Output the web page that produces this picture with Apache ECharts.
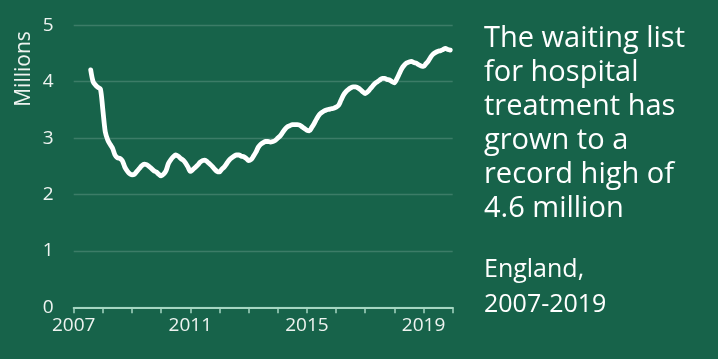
<!DOCTYPE html>
<html>
<head>
<meta charset="utf-8">
<script src="https://cdn.jsdelivr.net/npm/echarts@6/dist/echarts.min.js"></script>
<style>
html,body{margin:0;padding:0;background:#17634a;}
#c{width:718px;height:359px;}
</style>
</head>
<body>
<div id="c"></div>
<script>
// Monthly waiting list (millions), England
const months = [
"2007-08","2007-09","2007-10","2007-11","2007-12",
"2008-01","2008-02","2008-03","2008-04","2008-05","2008-06","2008-07","2008-08","2008-09","2008-10","2008-11","2008-12",
"2009-01","2009-02","2009-03","2009-04","2009-05","2009-06","2009-07","2009-08","2009-09","2009-10","2009-11","2009-12",
"2010-01","2010-02","2010-03","2010-04","2010-05","2010-06","2010-07","2010-08","2010-09","2010-10","2010-11","2010-12",
"2011-01","2011-02","2011-03","2011-04","2011-05","2011-06","2011-07","2011-08","2011-09","2011-10","2011-11","2011-12",
"2012-01","2012-02","2012-03","2012-04","2012-05","2012-06","2012-07","2012-08","2012-09","2012-10","2012-11","2012-12",
"2013-01","2013-02","2013-03","2013-04","2013-05","2013-06","2013-07","2013-08","2013-09","2013-10","2013-11","2013-12",
"2014-01","2014-02","2014-03","2014-04","2014-05","2014-06","2014-07","2014-08","2014-09","2014-10","2014-11","2014-12",
"2015-01","2015-02","2015-03","2015-04","2015-05","2015-06","2015-07","2015-08","2015-09","2015-10","2015-11","2015-12",
"2016-01","2016-02","2016-03","2016-04","2016-05","2016-06","2016-07","2016-08","2016-09","2016-10","2016-11","2016-12",
"2017-01","2017-02","2017-03","2017-04","2017-05","2017-06","2017-07","2017-08","2017-09","2017-10","2017-11","2017-12",
"2018-01","2018-02","2018-03","2018-04","2018-05","2018-06","2018-07","2018-08","2018-09","2018-10","2018-11","2018-12",
"2019-01","2019-02","2019-03","2019-04","2019-05","2019-06","2019-07","2019-08","2019-09","2019-10","2019-11","2019-12"
];
const waitingList = [
4.21,4.00,3.94,3.90,3.87,
3.50,3.11,2.97,2.89,2.82,2.70,2.65,2.64,2.60,2.49,2.42,2.37,
2.35,2.36,2.41,2.46,2.51,2.54,2.53,2.50,2.46,2.42,2.40,2.36,
2.33,2.36,2.42,2.55,2.62,2.67,2.70,2.68,2.64,2.61,2.56,2.49,
2.41,2.44,2.48,2.52,2.57,2.60,2.61,2.58,2.54,2.50,2.45,2.41,
2.40,2.45,2.49,2.55,2.61,2.65,2.68,2.70,2.70,2.68,2.67,2.64,
2.60,2.62,2.68,2.75,2.84,2.89,2.92,2.94,2.94,2.93,2.94,2.96,
3.00,3.04,3.10,3.16,3.20,3.22,3.24,3.24,3.24,3.23,3.20,3.17,
3.14,3.13,3.19,3.26,3.34,3.41,3.45,3.48,3.50,3.51,3.52,3.53,
3.55,3.58,3.67,3.76,3.82,3.86,3.89,3.91,3.91,3.89,3.86,3.82,
3.79,3.82,3.87,3.92,3.97,4.00,4.03,4.06,4.06,4.04,4.03,4.00,
3.98,4.05,4.14,4.23,4.29,4.33,4.35,4.36,4.34,4.33,4.30,4.28,
4.27,4.32,4.37,4.44,4.49,4.52,4.54,4.55,4.57,4.59,4.57,4.56
];
const yTicks = [0,1,2,3,4,5];
const xLabelYears = [2007,2011,2015,2019];
const yAxisName = "Millions";
const titleLines = ["The waiting list","for hospital","treatment has","grown to a","record high of","4.6 million"];
const subLines = ["England,","2007-2019"];

const seriesData = months.map((m,i)=>{
  const [y,mo] = m.split("-").map(Number);
  return [y + (mo-1)/12, waitingList[i]];
});

const FONT = "'Open Sans', sans-serif";
const chart = echarts.init(document.getElementById('c'), null, {renderer:'canvas'});
chart.setOption({
  backgroundColor:'#17634a',
  animation:false,
  grid:{left:73.7,right:265.3,top:25.3,bottom:51.7,containLabel:false},
  xAxis:{
    type:'value',min:2007,max:2020,interval:1,
    axisLine:{show:true,lineStyle:{color:'#a6d6c2',width:2}},
    axisTick:{show:true,length:6,lineStyle:{color:'#a6d6c2',width:1.5}},
    splitLine:{show:false},
    axisLabel:{
      color:'#eef3f0',fontFamily:FONT,fontSize:19,margin:9,
      formatter:v=> xLabelYears.includes(Math.round(v)) ? String(Math.round(v)) : ''
    }
  },
  yAxis:{
    type:'value',min:yTicks[0],max:yTicks[yTicks.length-1],interval:1,
    axisLine:{show:false},axisTick:{show:false},
    splitLine:{show:true,lineStyle:{color:'rgba(255,255,255,0.16)',width:1.3}},
    axisLabel:{color:'#eef3f0',fontFamily:FONT,fontSize:19,margin:20}
  },
  series:[{
    type:'line',data:seriesData,showSymbol:false,symbol:'none',smooth:0.3,
    lineStyle:{color:'#ffffff',width:4.8,cap:'round',join:'round'},
    z:5
  }],
  graphic:[
    {type:'text',x:24.5,y:69,rotation:Math.PI/2,
     style:{text:yAxisName,fill:'#eef3f0',font:"21px 'Open Sans', sans-serif",align:'center',verticalAlign:'middle'}},
    {type:'text',x:484,y:22,
     style:{text:titleLines.join('\n'),fill:'#ffffff',font:"29px 'Open Sans', sans-serif",lineHeight:34,align:'left',verticalAlign:'top'}},
    {type:'text',x:484,y:252,
     style:{text:subLines.join('\n'),fill:'#ffffff',font:"25px 'Open Sans', sans-serif",lineHeight:35,align:'left',verticalAlign:'top'}}
  ]
});
</script>
</body>
</html>
